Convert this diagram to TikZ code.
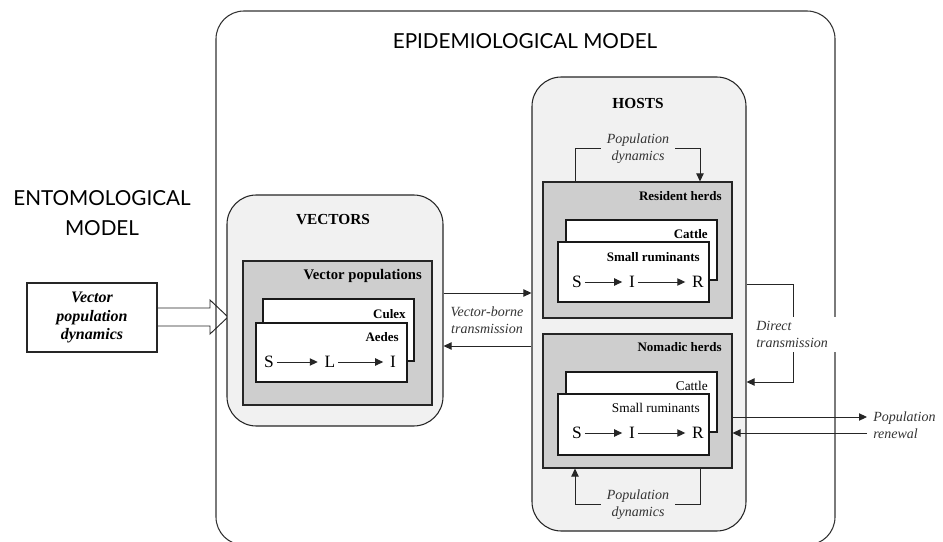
\documentclass[tikz,border=0pt]{standalone}
\usepackage{fontspec}
\setmainfont{Liberation Serif}
\newfontfamily\latofont{Lato}
\usetikzlibrary{arrows.meta,fit}

\definecolor{boxgray}{RGB}{206,206,206}
\definecolor{lightfill}{RGB}{241,241,241}

\tikzset{
  outerbox/.style={draw=black!80, line width=0.8pt, rounded corners=21pt, inner sep=0pt},
  roundbox/.style={draw=black!85, line width=0.8pt, rounded corners=22pt, fill=lightfill, inner sep=0pt},
  graybox/.style={draw=black!85, line width=0.8pt, fill=boxgray, inner sep=0pt},
  whitebox/.style={draw=black!90, line width=0.8pt, fill=white, inner sep=0pt},
  modeltitle/.style={font=\latofont\fontsize{15.5}{23}\selectfont},
  boxtitle/.style={font=\bfseries\fontsize{11.5}{14}\selectfont},
  boldlbl/.style={font=\bfseries\fontsize{9.75}{12}\selectfont, anchor=east, inner sep=0pt},
  plainlbl/.style={font=\fontsize{10}{12}\selectfont, anchor=east, inner sep=0pt},
  itlbl/.style={font=\itshape\fontsize{10.5}{12.5}\selectfont, align=center, text=black!80, inner xsep=4.5pt},
  sir/.style={font=\fontsize{13}{15}\selectfont, inner sep=2pt},
  conn/.style={draw=black!85, line width=0.7pt},
  arr/.style={conn, -{Triangle[length=6pt,width=5.5pt]}},
  sirarr/.style={arr, shorten >=3pt},
}

\begin{document}
\begin{tikzpicture}[x=0.75pt,y=-0.75pt]
  \useasboundingbox (0,0) rectangle (943,542);

  % epidemiological model frame
  \node[outerbox, fit={(216,11) (835,545)}] (epi) {};
  \node[modeltitle] (epititle) at (525,41) {EPIDEMIOLOGICAL MODEL};

  % entomological model
  \node[modeltitle, align=center] (entotitle) at (102,213) {ENTOMOLOGICAL\\MODEL};
  \node[draw=black!85, line width=0.8pt, fill=white, inner sep=0pt,
        fit={(27,283) (157,352)}] (ento) {};
  \node[font=\bfseries\itshape\fontsize{12}{14}\selectfont, align=center] (entotext) at (ento.center) {Vector\\population\\dynamics};
  \draw[conn] (ento.east |- 0,308) -- (210,308) -- (210,300) -- (228,317)
              -- (210,334) -- (210,326) -- (ento.east |- 0,326);

  % vectors
  \node[roundbox, fit={(227,195) (443,426)}] (vec) {};
  \node[boxtitle] (vectitle) at (333,220) {VECTORS};
  \node[graybox, fit={(243,261) (432,405)}] (vpop) {};
  \node[boldlbl, font=\bfseries\fontsize{11}{13}\selectfont] (vpoplbl) at (422,276) {Vector populations};
  \node[whitebox, fit={(263,299) (414,361)}] (culex) {};
  \node[boldlbl] (culexlbl) at (406,314) {Culex};
  \node[whitebox, fit={(256,323) (407,382)}] (aedes) {};
  \node[boldlbl] (aedeslbl) at (399,337) {Aedes};
  \node[sir] (vs) at (269,362) {S};
  \node[sir] (vl) at (330,362) {L};
  \node[sir] (vi) at (393,362) {I};
  \draw[sirarr] (vs) -- (vl);
  \draw[sirarr] (vl) -- (vi);

  % hosts
  \node[roundbox, fit={(532,77) (746,531)}] (hosts) {};
  \node[boxtitle] (hoststitle) at (638,103) {HOSTS};
  \node[itlbl] (popdyntop) at (638,148.5) {Population\\dynamics};

  \node[graybox, fit={(543,182) (732,318)}] (resid) {};
  \node[boldlbl] (residlbl) at (722,196) {Resident herds};
  \node[whitebox, fit={(566,220) (717,280)}] (rcattle) {};
  \node[boldlbl] (rcattlelbl) at (708,234) {Cattle};
  \node[whitebox, fit={(558,242) (709,302)}] (rsmall) {};
  \node[boldlbl] (rsmalllbl) at (700,257) {Small ruminants};
  \node[sir] (rs) at (577,282) {S};
  \node[sir] (ri) at (632,282) {I};
  \node[sir] (rr) at (698,282) {R};
  \draw[sirarr] (rs) -- (ri);
  \draw[sirarr] (ri) -- (rr);
  \draw[conn] (resid.north -| 575,0) |- (popdyntop.west);
  \draw[arr] (popdyntop.east) -| (resid.north -| 700,0);

  \node[graybox, fit={(543,334) (732,468)}] (nomad) {};
  \node[boldlbl] (nomadlbl) at (722,347) {Nomadic herds};
  \node[whitebox, fit={(566,372) (717,432)}] (ncattle) {};
  \node[plainlbl] (ncattlelbl) at (708,386) {Cattle};
  \node[whitebox, fit={(558,394) (709,455)}] (nsmall) {};
  \node[plainlbl] (nsmalllbl) at (700,408) {Small ruminants};
  \node[sir] (ns) at (577,433) {S};
  \node[sir] (ni) at (632,433) {I};
  \node[sir] (nr) at (698,433) {R};
  \draw[sirarr] (ns) -- (ni);
  \draw[sirarr] (ni) -- (nr);
  \node[itlbl] (popdynbot) at (638,504.5) {Population\\dynamics};
  \draw[arr] (popdynbot.west) -| (nomad.south -| 575,0);
  \draw[conn] (nomad.south -| 700,0) |- (popdynbot.east);

  % vector-borne transmission
  \node[itlbl] (vbt) at (487,320) {Vector-borne\\transmission};
  \draw[arr] (vec.east |- 0,293) -- (hosts.west |- 0,293);
  \draw[arr] (hosts.west |- 0,346) -- (vec.east |- 0,346);

  % direct transmission
  \node[itlbl, align=left, fill=white, text width=58pt, inner xsep=2pt] (direct) at (795,334.5) {Direct\\transmission};
  \draw[conn] (hosts.east |- 0,284) -| (direct.north -| 793,0);
  \draw[arr] (direct.south -| 793,0) |- (hosts.east |- 0,382);

  % population renewal
  \node[itlbl, align=left, anchor=west] (renewal) at (867,425) {Population\\renewal};
  \draw[arr] (nomad.east |- 0,417) -- (renewal.west |- 0,417);
  \draw[arr] (renewal.west |- 0,433) -- (nomad.east |- 0,433);
\end{tikzpicture}
\end{document}
